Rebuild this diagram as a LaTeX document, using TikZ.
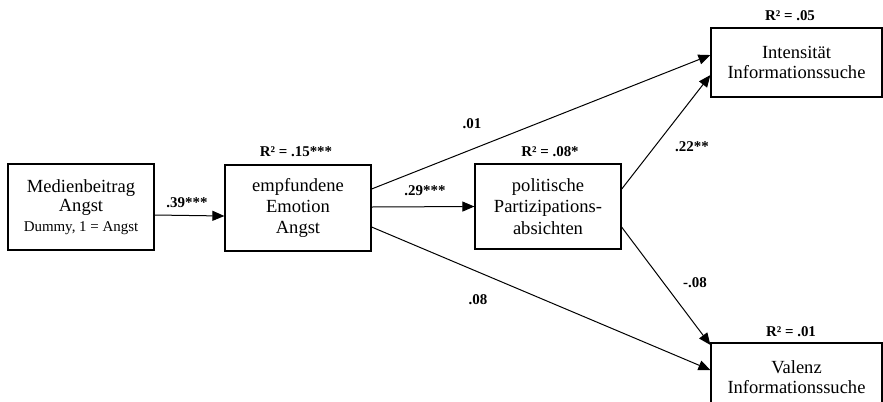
\documentclass[tikz,border=0pt]{standalone}
\usepackage{fontspec}
\setmainfont{Liberation Serif}
\usetikzlibrary{arrows.meta}
\begin{document}
\begin{tikzpicture}[x=0.75pt,y=-0.75pt,
  box/.style={draw,line width=0.9pt,align=center,inner sep=0pt,font=\fontsize{13.9}{14.8}\selectfont},
  coef/.style={font=\bfseries\fontsize{11.2}{13}\selectfont},
  arr/.style={-{Triangle[length=9pt,width=7.5pt]},line width=0.75pt}]
\clip (0,0) rectangle (883,401);
% Variablen
\node[box,minimum width=109.5pt,minimum height=64.5pt] (medien) at (81,207)
  {Medienbeitrag\\Angst\\{\fontsize{11.2}{13}\selectfont Dummy, 1 = Angst}};
\node[box,minimum width=109.5pt,minimum height=64.5pt,font=\fontsize{13.9}{16}\selectfont] (emotion) at (298,208)
  {empfundene\\Emotion\\Angst};
\node[box,minimum width=109.5pt,minimum height=63.75pt,font=\fontsize{13.9}{16}\selectfont] (partizipation) at (548,206.5)
  {politische\\Partizipations-\\absichten};
\node[box,minimum width=128.25pt,minimum height=51.75pt] (intensitaet) at (796.5,62.5)
  {Intensit\"at\\Informationssuche};
\node[box,minimum width=128.25pt,minimum height=51.75pt] (valenz) at (796.5,377.5)
  {Valenz\\Informationssuche};
% Pfade
\draw[arr] ([yshift=-6pt]medien.east) -- ([yshift=-6pt]emotion.west);
\draw[arr] ([yshift=0.75pt]emotion.east) -- (partizipation.west);
\draw[arr] ([yshift=14.25pt]emotion.east) -- ([yshift=5.6pt]intensitaet.west);
\draw[arr] ([yshift=13pt]partizipation.east) -- ([yshift=-9.4pt]intensitaet.west);
\draw[arr] ([yshift=-14.25pt]emotion.east) -- ([yshift=5.6pt]valenz.west);
\draw[arr] ([yshift=-15.4pt]partizipation.east) -- ([yshift=24.4pt]valenz.west);
% Koeffizienten
\node[coef] (k39) at (187,203) {.39***};
\node[coef] (k29) at (425,191) {.29***};
\node[coef] (k01) at (472,124) {.01};
\node[coef] (k08) at (478,300) {.08};
\node[coef] (k08n) at (695,283) {-.08};
\node[coef] (k22) at (692,147) {.22**};
% erklaerte Varianz
\node[coef] (r15) at (296,152) {R² = .15***};
\node[coef] (r08) at (550,152) {R² = .08*};
\node[coef] (r05) at (790,16) {R² = .05};
\node[coef] (r01) at (791,332) {R² = .01};
\end{tikzpicture}
\end{document}
